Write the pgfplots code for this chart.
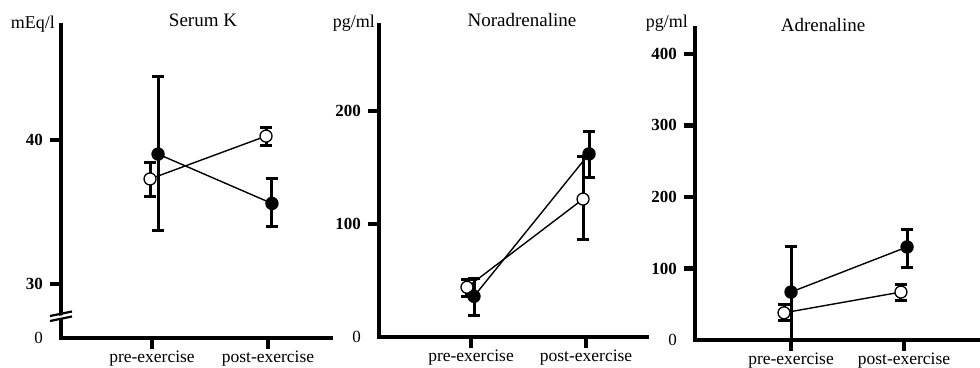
\documentclass[border=0pt]{standalone}
\usepackage{fontspec}
\setmainfont{Liberation Serif}
\usepackage{pgfplots}
\pgfplotsset{compat=1.18}
\tikzset{tk/.style={black, line width=4.5pt}}
\pgfplotsset{
  panel/.style={
    scale only axis, anchor=south west,
    axis x line=bottom, axis y line=left,
    axis line style={-, line width=4pt, line cap=rect},
    tick align=outside, major tick length=11pt,
    xtick={0,1}, xticklabels={pre-exercise,post-exercise},
    xticklabel style={font=\fontsize{17.5}{20}\selectfont, yshift=2pt},
    yticklabel style={font=\fontsize{17}{19}\selectfont\bfseries, xshift=-3.5pt},
    extra y tick style={major tick length=0pt, yticklabel style={xshift=-11pt, font=\fontsize{17}{19}\selectfont\mdseries}},
    clip=false,
  },
  openser/.style={black, line width=1.4pt, mark=*, mark size=6pt,
    mark options={fill=white, draw=black, line width=1.3pt},
    error bars/.cd, y dir=both, y explicit,
    error bar style={line width=3pt},
    error mark options={rotate=90, mark size=6pt, line width=3pt}},
  fillser/.style={black, line width=1.4pt, mark=*, mark size=6pt,
    mark options={fill=black, draw=black},
    error bars/.cd, y dir=both, y explicit,
    error bar style={line width=3pt},
    error mark options={rotate=90, mark size=6pt, line width=3pt}},
}
\begin{document}
\begin{tikzpicture}
\path[use as bounding box] (0pt,0pt) rectangle (980pt,367pt);
% ---------------- Serum K
\begin{axis}[panel, at={(61pt,29pt)}, width=270pt, height=313pt,
  xmin=-0.7845, xmax=1.543, ymin=26.25, ymax=48,
  ytick={30,40}, yticklabels={30,40},
  extra y ticks={26.25}, extra y tick labels={0}]
\addplot+[openser] coordinates {
  (-0.017,37.3) += (0,1.17) -= (0,1.2)
  (0.983,40.28) += (0,0.62) -= (0,0.63)
};
\addplot+[fillser] coordinates {
  (0.052,39.03) += (0,5.37) -= (0,5.28)
  (1.034,35.6) += (0,1.7) -= (0,1.6)
};
\draw[tk] (axis cs:0,26.25) -- ++(0pt,-11pt);
\draw[tk] (axis cs:1,26.25) -- ++(0pt,-11pt);
\draw[tk] (axis cs:-0.7845,30) -- ++(-11pt,0pt);
\draw[tk] (axis cs:-0.7845,40) -- ++(-11pt,0pt);
\end{axis}
% break marks
\draw[white, line width=3.5pt] (55pt,48.5pt) -- (68pt,51pt);
\draw[black, line width=2.2pt] (50pt,51pt) -- (72pt,55.5pt);
\draw[black, line width=2.2pt] (50pt,46pt) -- (72pt,50.5pt);
% ---------------- Noradrenaline
\begin{axis}[panel, at={(379pt,30pt)}, width=268pt, height=312pt,
  xmin=-0.8, xmax=1.530, ymin=0, ymax=276,
  ytick={100,200}, yticklabels={100,200},
  extra y ticks={0}, extra y tick labels={0}]
\addplot+[openser] coordinates {
  (-0.035,44) += (0,7) -= (0,8)
  (0.974,122) += (0,38) -= (0,36)
};
\addplot+[fillser] coordinates {
  (0.026,36) += (0,16) -= (0,17)
  (1.026,162) += (0,20) -= (0,21)
};
\draw[tk] (axis cs:0,0) -- ++(0pt,-11pt);
\draw[tk] (axis cs:1,0) -- ++(0pt,-11pt);
\draw[tk] (axis cs:-0.8,100) -- ++(-11pt,0pt);
\draw[tk] (axis cs:-0.8,200) -- ++(-11pt,0pt);
\end{axis}
% ---------------- Adrenaline
\begin{axis}[panel, at={(695pt,27pt)}, width=283pt, height=312pt,
  xmin=-0.85, xmax=1.655, ymin=0, ymax=436,
  ytick={100,200,300,400}, yticklabels={100,200,300,400},
  extra y ticks={0}, extra y tick labels={0}]
\addplot+[openser] coordinates {
  (-0.062,38) += (0,12) -= (0,11)
  (0.973,67) += (0,11) -= (0,12)
};
\addplot+[fillser] coordinates {
  (0,67) += (0,64) -= (0,67)
  (1.027,130) += (0,25) -= (0,28)
};
\draw[tk] (axis cs:0,0) -- ++(0pt,-11pt);
\draw[tk] (axis cs:1,0) -- ++(0pt,-11pt);
\draw[tk] (axis cs:-0.85,100) -- ++(-11pt,0pt);
\draw[tk] (axis cs:-0.85,200) -- ++(-11pt,0pt);
\draw[tk] (axis cs:-0.85,300) -- ++(-11pt,0pt);
\draw[tk] (axis cs:-0.85,400) -- ++(-11pt,0pt);
\end{axis}
% titles and units
\node[anchor=base, inner sep=0, font=\fontsize{19}{22}\selectfont] at (203pt,340pt) {Serum K};
\node[anchor=base, inner sep=0, font=\fontsize{19}{22}\selectfont] at (522pt,340pt) {Noradrenaline};
\node[anchor=base, inner sep=0, font=\fontsize{19}{22}\selectfont] at (823pt,335pt) {Adrenaline};
\node[anchor=base east, inner sep=0, font=\fontsize{18}{20}\selectfont] at (55pt,338pt) {mEq/l};
\node[anchor=base east, inner sep=0, font=\fontsize{18}{20}\selectfont] at (375pt,339pt) {pg/ml};
\node[anchor=base east, inner sep=0, font=\fontsize{18}{20}\selectfont] at (688pt,339pt) {pg/ml};
\end{tikzpicture}
\end{document}
